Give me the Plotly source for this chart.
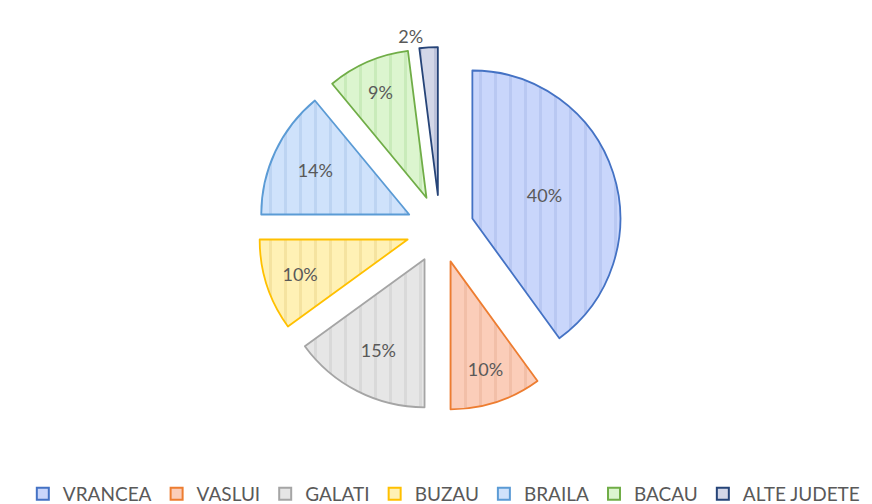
import plotly.graph_objects as go

labels = ["VRANCEA", "VASLUI", "GALATI", "BUZAU", "BRAILA", "BACAU", "ALTE JUDETE"]
values = [40, 10, 15, 10, 14, 9, 2]
fill_colors = ["#c9d6fb", "#fbcdb9", "#e6e6e6", "#fff1b5", "#cfe2fb", "#dcf5cf", "#d3d7e8"]
stripe_colors = ["#b9c8f2", "#f2bfa8", "#d9d9d9", "#f5e3a0", "#bdd4f2", "#c9ebba", "#bcc2da"]
line_colors = ["#4472c4", "#ed7d31", "#a5a5a5", "#ffc000", "#5b9bd5", "#70ad47", "#264478"]
text_positions = ["inside", "inside", "inside", "inside", "inside", "inside", "outside"]

fig = go.Figure(go.Pie(
    labels=labels,
    values=values,
    sort=False,
    direction="clockwise",
    rotation=0,
    pull=[0.23] * len(values),
    texttemplate="%{percent:.0%}",
    textposition=text_positions,
    insidetextorientation="horizontal",
    textfont=dict(family="Lato, Carlito, sans-serif", size=18, color="#595959"),
    marker=dict(
        colors=fill_colors,
        line=dict(color=line_colors, width=1.8),
        pattern=dict(shape="|", size=15, solidity=0.2,
                     fgcolor=stripe_colors, bgcolor=fill_colors, fillmode="replace"),
    ),
    hoverinfo="label+percent",
))

fig.update_layout(
    width=872, height=504,
    paper_bgcolor="white", plot_bgcolor="white",
    margin=dict(l=0, r=8, t=39, b=101, autoexpand=False),
    showlegend=True,
    legend=dict(orientation="h", x=0.505, xanchor="center", y=-0.228, yanchor="middle",
                font=dict(family="Lato, Carlito, sans-serif", size=19, color="#595959"),
                itemsizing="constant", traceorder="normal", itemwidth=30),
)

fig.write_html("out.html")
